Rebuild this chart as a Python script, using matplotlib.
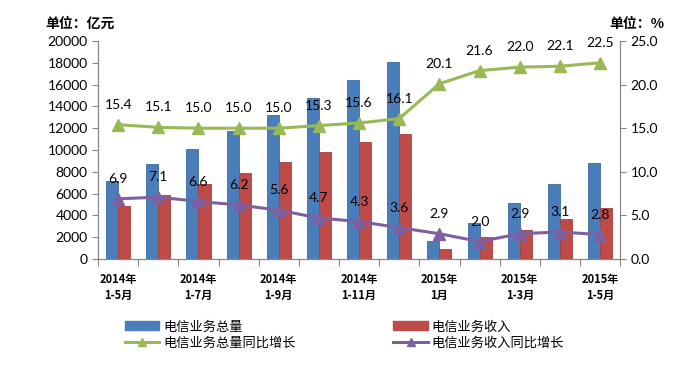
import numpy as np
import matplotlib.pyplot as plt
from matplotlib.lines import Line2D
from matplotlib.patches import Patch

plt.rcParams['font.family'] = ['Lato', 'Noto Sans CJK SC', 'DejaVu Sans']

# Data
periods = ['2014年\n1-5月', '', '2014年\n1-7月', '', '2014年\n1-9月', '',
           '2014年\n1-11月', '', '2015年\n1月', '', '2015年\n1-3月', '',
           '2015年\n1-5月']
total = [7200, 8700, 10100, 11700, 13200, 14800, 16400, 18100,
         1700, 3300, 5100, 6900, 8800]
revenue = [4900, 5900, 6900, 7900, 8900, 9800, 10700, 11500,
           950, 2000, 2700, 3700, 4700]
total_growth = [15.4, 15.1, 15.0, 15.0, 15.0, 15.3, 15.6, 16.1,
                20.1, 21.6, 22.0, 22.1, 22.5]
revenue_growth = [6.9, 7.1, 6.6, 6.2, 5.6, 4.7, 4.3, 3.6,
                  2.9, 2.0, 2.9, 3.1, 2.8]

blue = '#4a7ebb'
red = '#be4b48'
green = '#98b954'
purple = '#7d60a0'
grey = '#868686'

fig = plt.figure(figsize=(6.86, 3.69), dpi=100)
ax = fig.add_axes([0.143, 0.298, 0.761, 0.591])
ax2 = ax.twinx()

x = np.arange(len(total))
w = 0.3
ax.bar(x - w / 2, total, w, color=blue, edgecolor='#3a6aa5', linewidth=0.6, zorder=2)
ax.bar(x + w / 2, revenue, w, color=red, edgecolor='#a8403d', linewidth=0.6, zorder=2)

ax.set_xlim(-0.5, len(total) - 0.5)
ax.set_ylim(0, 20000)
ax.set_yticks(np.arange(0, 20001, 2000))
ax.set_xticks(np.arange(-0.5, len(total), 1))
ax.set_xticklabels([])
ax.set_xticks(x, minor=True)
ax.set_xticklabels(periods, minor=True, fontsize=8, fontweight='bold',
                   family=['Noto Sans CJK SC'], linespacing=1.3)
ax.tick_params(axis='x', which='minor', length=0, pad=10)
ax.tick_params(axis='x', which='major', length=5, color=grey, direction='out')
ax.tick_params(axis='y', labelsize=10, length=4, color=grey)

ax2.plot(x, total_growth, color=green, lw=2.2, marker='^', ms=8, zorder=3)
ax2.plot(x, revenue_growth, color=purple, lw=2.2, marker='^', ms=8, zorder=3)
ax2.set_ylim(0, 25)
ax2.set_yticks(np.arange(0, 25.1, 5))
ax2.set_yticklabels(['%.1f' % v for v in np.arange(0, 25.1, 5)])
ax2.tick_params(axis='y', labelsize=10, length=4, color=grey)

for i, v in enumerate(total_growth):
    ax2.annotate('%.1f' % v, (x[i], v), xytext=(0, 10), textcoords='offset points',
                 ha='center', va='bottom', fontsize=10)
for i, v in enumerate(revenue_growth):
    ax2.annotate('%.1f' % v, (x[i], v), xytext=(0, 10), textcoords='offset points',
                 ha='center', va='bottom', fontsize=10)

for a in (ax, ax2):
    a.spines['top'].set_visible(False)
    for s in ('left', 'right', 'bottom'):
        a.spines[s].set_color(grey)

fig.text(0.066, 0.925, '单位：亿元', fontsize=10, fontweight='bold',
         family=['Noto Sans CJK SC'])
fig.text(0.888, 0.925, '单位：%', fontsize=10, fontweight='bold',
         family=['Noto Sans CJK SC'])

# ncol=2 fills column by column
handles = [Patch(color=blue),
           Line2D([], [], color=green, lw=2.2, marker='^', ms=6),
           Patch(color=red),
           Line2D([], [], color=purple, lw=2.2, marker='^', ms=6)]
labels = ['电信业务总量', '电信业务总量同比增长', '电信业务收入', '电信业务收入同比增长']
fig.legend(handles, labels, loc='lower left', bbox_to_anchor=(0.165, 0.02),
           ncol=2, frameon=False, columnspacing=7.4, handlelength=2.6,
           handletextpad=0.3, labelspacing=0.25,
           prop={'family': 'Noto Sans CJK SC', 'size': 9.5})

fig.savefig('out.png', dpi=100)
